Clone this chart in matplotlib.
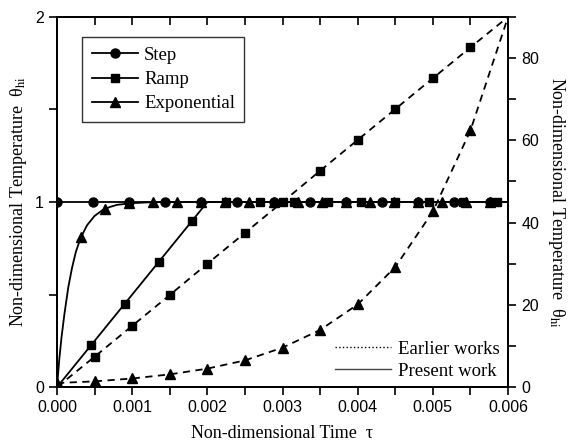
import numpy as np
import matplotlib.pyplot as plt
from matplotlib.lines import Line2D
from matplotlib.ticker import MultipleLocator

plt.rcParams['font.family'] = 'Liberation Sans'
plt.rcParams['mathtext.fontset'] = 'stix'

serif = 'Liberation Serif'

# present work, left axis (theta_hi between 0 and 2)
step_tau = [0.0, 0.0, 0.006]
step_val = [0.0, 1.0, 1.0]
step_mk_tau = [0.0] + [0.00048 * i for i in range(13)]
step_mk_val = [0.0] + [1.0] * 13

ramp_tau = [0.0, 0.002, 0.006]
ramp_val = [0.0, 1.0, 1.0]
ramp_mk_tau = [0.0, 0.00045, 0.0009, 0.00135, 0.0018, 0.00225, 0.0027, 0.00315,
               0.0036, 0.00405, 0.0045, 0.00495, 0.0054, 0.00585]
ramp_mk_val = [0.0, 0.225, 0.45, 0.675, 0.9, 1.0, 1.0, 1.0,
               1.0, 1.0, 1.0, 1.0, 1.0, 1.0]

expo_tau = [0.0, 0.00003, 0.00006, 0.0001, 0.00015, 0.0002, 0.00025, 0.0003,
            0.00035, 0.0004, 0.0005, 0.0006, 0.0007, 0.0008, 0.001, 0.0012, 0.0014, 0.006]
expo_val = [0.0, 0.15, 0.27, 0.40, 0.54, 0.645, 0.73, 0.79,
            0.835, 0.875, 0.925, 0.955, 0.973, 0.985, 0.994, 0.998, 1.0, 1.0]
expo_mk_tau = [0.00032 * i for i in range(19)]
expo_mk_val = [0.0, 0.81, 0.965, 0.993] + [1.0] * 15

# earlier works, right axis (theta_hi between 0 and 90)
ramp2_tau = [0.0, 0.0005, 0.001, 0.0015, 0.002, 0.0025, 0.003, 0.0035,
             0.004, 0.0045, 0.005, 0.0055, 0.006]
ramp2_val = [0.0, 7.4, 14.9, 22.4, 30.0, 37.5, 45.0, 52.6,
             60.1, 67.6, 75.1, 82.6, 90.0]
expo2_tau = ramp2_tau
expo2_val = [1.0, 1.4, 2.1, 3.1, 4.5, 6.5, 9.6, 13.9,
             20.1, 29.2, 42.7, 62.4, 90.0]

fig = plt.figure(figsize=(5.76, 4.46), dpi=100)
ax = fig.add_axes([0.099, 0.132, 0.783, 0.83])
ax2 = ax.twinx()

lw = 1.3
ms = 6.5
ax.plot(step_tau, step_val, color='black', lw=lw)
ax.plot(step_mk_tau, step_mk_val, 'o', color='black', ms=ms, ls='none')
ax.plot(ramp_tau, ramp_val, color='black', lw=lw)
ax.plot(ramp_mk_tau, ramp_mk_val, 's', color='black', ms=ms - 0.5, ls='none')
ax.plot(expo_tau, expo_val, color='black', lw=lw)
ax.plot(expo_mk_tau, expo_mk_val, '^', color='black', ms=ms, ls='none')

dash = (0, (4, 3))
ax2.plot(ramp2_tau, ramp2_val, color='black', lw=lw, ls=dash,
         marker='s', ms=ms - 0.5, markevery=slice(0, 12))
ax2.plot(expo2_tau, expo2_val, color='black', lw=lw, ls=dash,
         marker='^', ms=ms, markevery=slice(0, 12))

ax.set_xlim(0, 0.006)
ax.set_ylim(0, 2)
ax2.set_ylim(0, 90)

ax.xaxis.set_major_locator(MultipleLocator(0.001))
ax.xaxis.set_minor_locator(MultipleLocator(0.0005))
ax.yaxis.set_major_locator(MultipleLocator(1))
ax.yaxis.set_minor_locator(MultipleLocator(0.5))
ax2.yaxis.set_major_locator(MultipleLocator(20))
ax2.yaxis.set_minor_locator(MultipleLocator(10))
ax.xaxis.set_major_formatter(plt.FormatStrFormatter('%.3f'))

for a in (ax, ax2):
    for s in a.spines.values():
        s.set_linewidth(1.3)
ax.tick_params(axis='both', which='both', direction='out', width=1.2,
               length=6, labelsize=11.5)
ax2.tick_params(axis='y', which='both', direction='out', width=1.2,
                length=6, labelsize=11.5)

# top ticks point inward, bottom ones outward
secx = ax.secondary_xaxis('top')
secx.xaxis.set_major_locator(MultipleLocator(0.001))
secx.xaxis.set_minor_locator(MultipleLocator(0.0005))
secx.tick_params(which='both', direction='in', length=6, width=1.2, labeltop=False)
secx.spines['top'].set_linewidth(1.3)

ax.set_xlabel('Non-dimensional Time  τ', family=serif, fontsize=13, labelpad=7)
ylab = r'Non-dimensional Temperature  θ$_{\mathrm{hi}}$'
ax.set_ylabel(ylab, family=serif, fontsize=13, labelpad=4)
ax2.set_ylabel(ylab, family=serif, fontsize=13, rotation=270, labelpad=20)

handles = [
    Line2D([], [], color='black', lw=lw, marker='o', ms=ms),
    Line2D([], [], color='black', lw=lw, marker='s', ms=ms - 0.5),
    Line2D([], [], color='black', lw=lw, marker='^', ms=ms),
]
leg = ax.legend(handles, ['Step', 'Ramp', 'Exponential'], loc='upper left',
                bbox_to_anchor=(0.035, 0.97), prop={'family': serif, 'size': 13.5},
                fancybox=False, edgecolor='black', handlelength=2.5,
                handletextpad=0.3, labelspacing=0.38, borderpad=0.5)
leg.get_frame().set_linewidth(1.0)

handles2 = [
    Line2D([], [], color='black', lw=1.0, ls=':'),
    Line2D([], [], color='#444444', lw=1.0, ls='-'),
]
ax2.legend(handles2, ['Earlier works', 'Present work'], loc='lower right',
           bbox_to_anchor=(1.02, -0.025), frameon=False,
           prop={'family': serif, 'size': 13.5}, handlelength=3.0,
           handletextpad=0.4, labelspacing=0.25)

fig.savefig('out.png', dpi=100)
